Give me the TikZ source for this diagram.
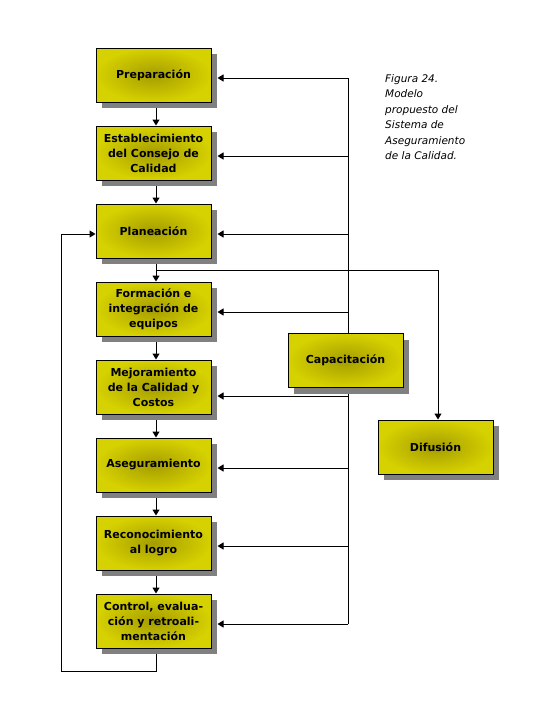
\documentclass[tikz,border=0pt]{standalone}
\usepackage{fontspec}
\setmainfont{DejaVu Sans}
\usetikzlibrary{arrows.meta,calc,shadows,backgrounds}
\definecolor{boxout}{RGB}{214,209,0}
\definecolor{boxin}{RGB}{165,157,0}
\definecolor{shadowgray}{RGB}{128,128,128}
\tikzset{
  box/.style={draw=black, line width=1pt, minimum width=115pt, minimum height=54pt,
    inner sep=0pt, align=center,
    font=\bfseries\fontsize{11}{15}\selectfont,
    shading=radial, inner color=boxin, outer color=boxout,
    drop shadow={shadow xshift=6pt, shadow yshift=-6pt, fill=shadowgray, opacity=1}},
  conn/.style={draw=black, line width=1pt},
  arr/.style={conn, -{Triangle[width=7pt,length=6pt]}},
  caption/.style={anchor=north west, align=left, inner sep=0pt,
    font=\itshape\fontsize{10.5}{15.5}\selectfont}
}
\begin{document}
\begin{tikzpicture}[x=1pt,y=-1pt]
\useasboundingbox (0,0) rectangle (540,720);
\node[box] (prep) at (153.5,75) {Preparación};
\node[box] (est) at (153.5,153) {Establecimiento\\del Consejo de\\Calidad};
\node[box] (plan) at (153.5,231) {Planeación};
\node[box] (form) at (153.5,309) {Formación e\\integración de\\equipos};
\node[box] (mej) at (153.5,387) {Mejoramiento\\de la Calidad y\\Costos};
\node[box] (ase) at (153.5,465) {Aseguramiento};
\node[box] (rec) at (153.5,543) {Reconocimiento\\al logro};
\node[box] (ctrl) at (153.5,621) {Control, evalua-\\ción y retroali-\\mentación};
\node[box] (cap) at (345.5,360.5) {Capacitación};
\node[box] (dif) at (435.5,447) {Difusión};
\node[caption] (cap24) at (385,74) {Figura 24.\\Modelo\\propuesto del\\Sistema de\\Aseguramiento\\de la Calidad.};

\begin{scope}[on background layer]
\coordinate (t1) at (348,78);
\coordinate (t2) at (348,156);
\coordinate (t3) at (348,234);
\coordinate (t4) at (348,312);
\coordinate (t5) at (348,396);
\coordinate (t6) at (348,468);
\coordinate (t7) at (348,546);
\coordinate (t8) at (348,624);
\draw[conn] (t1) -- ($(cap.north)+(2.5,0)$);
\draw[conn] ($(cap.south)+(2.5,0)$) -- (t8);
\draw[arr] (t1) -- ($(prep.east)+(6,3)$);
\draw[arr] (t2) -- ($(est.east)+(6,3)$);
\draw[arr] (t3) -- ($(plan.east)+(6,3)$);
\draw[arr] (t4) -- ($(form.east)+(6,3)$);
\draw[arr] (t5) -- ($(mej.east)+(6,9)$);
\draw[arr] (t6) -- ($(ase.east)+(6,3)$);
\draw[arr] (t7) -- ($(rec.east)+(6,3)$);
\draw[arr] (t8) -- ($(ctrl.east)+(6,3)$);
% vertical flow
\draw[arr] ($(prep.south)+(2.5,0)$) -- ($(est.north)+(2.5,0)$);
\draw[arr] ($(est.south)+(2.5,0)$) -- ($(plan.north)+(2.5,0)$);
\draw[arr] ($(plan.south)+(2.5,0)$) -- ($(form.north)+(2.5,0)$);
\draw[arr] ($(form.south)+(2.5,0)$) -- ($(mej.north)+(2.5,0)$);
\draw[arr] ($(mej.south)+(2.5,0)$) -- ($(ase.north)+(2.5,0)$);
\draw[arr] ($(ase.south)+(2.5,0)$) -- ($(rec.north)+(2.5,0)$);
\draw[arr] ($(rec.south)+(2.5,0)$) -- ($(ctrl.north)+(2.5,0)$);
% difusion branch
\coordinate (split) at ($(plan.south)+(2.5,12)$);
\draw[arr] (split) -| ($(dif.north)+(2.5,0)$);
% feedback loop
\coordinate (fb) at (61,671);
\draw[arr] ($(ctrl.south)+(2.5,0)$) |- (fb) |- ($(plan.west)+(0,3)$);
\end{scope}
\end{tikzpicture}
\end{document}
